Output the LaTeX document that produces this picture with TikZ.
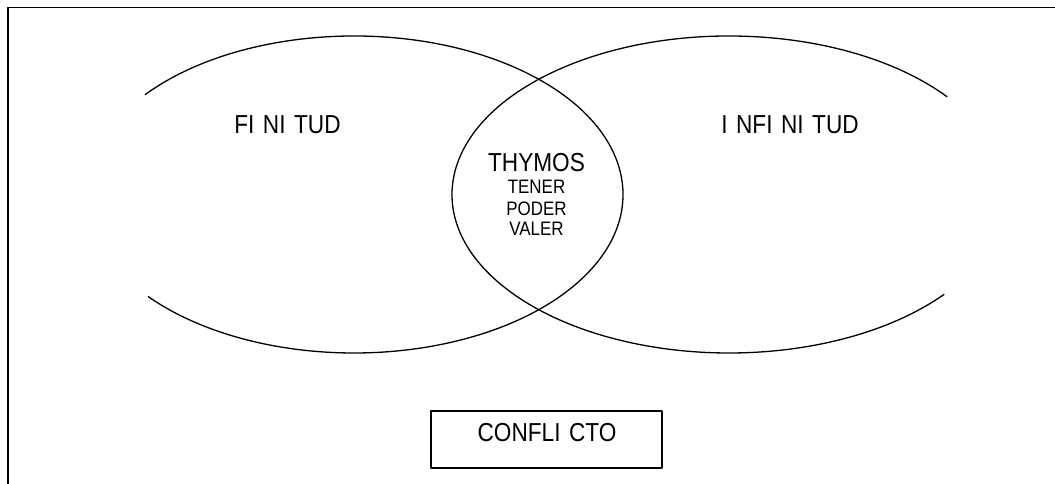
\documentclass[tikz,border=0pt]{standalone}
\usepackage{fontspec}
\newfontfamily\lab[FakeStretch=0.87]{Liberation Sans}
\newcommand\gI{I\kern8.5pt}
\begin{document}
\begin{tikzpicture}[x=1pt,y=1pt,line join=round,
  ring/.style={line width=1.3pt},
  frameline/.style={line width=1.5pt},
  big/.style={font=\lab\fontsize{26}{28}\selectfont, inner sep=0pt, anchor=base},
  small/.style={font=\lab\fontsize{19.5}{21}\selectfont, inner sep=0pt, anchor=base},
  boxed/.style={draw, line width=1.3pt, minimum width=231pt, minimum height=57pt, inner sep=0pt}]
\useasboundingbox (0,0) rectangle (1055,484);
\draw[frameline] (8,-2) -- (8,476.7) -- (1057,476.7);
\coordinate (L) at (354,289.5);
\coordinate (R) at (729,289.5);
\draw[ring] ([shift={(141:269pt and 158.5pt)}]L) arc[start angle=141, end angle=-140, x radius=269pt, y radius=158.5pt];
\draw[ring] ([shift={(38:277pt and 158.5pt)}]R) arc[start angle=38, end angle=321, x radius=277pt, y radius=158.5pt];
\node[big] (fin) at (287.5,350) {F\gI N\gI TUD};
\node[big] (inf) at (790,350) {\gI NF\gI N\gI TUD};
\node[big] (thy) at (536.5,312.3) {THYMOS};
\node[small] (ten) at (536.5,290) {TENER};
\node[small] (pod) at (536.5,268.5) {PODER};
\node[small] (val) at (536.5,248.5) {VALER};
\node[boxed] (cbox) at (546.5,44.5) {};
\node[big] (conf) at (547,42) {CONFL\gI CTO};
\end{tikzpicture}
\end{document}
